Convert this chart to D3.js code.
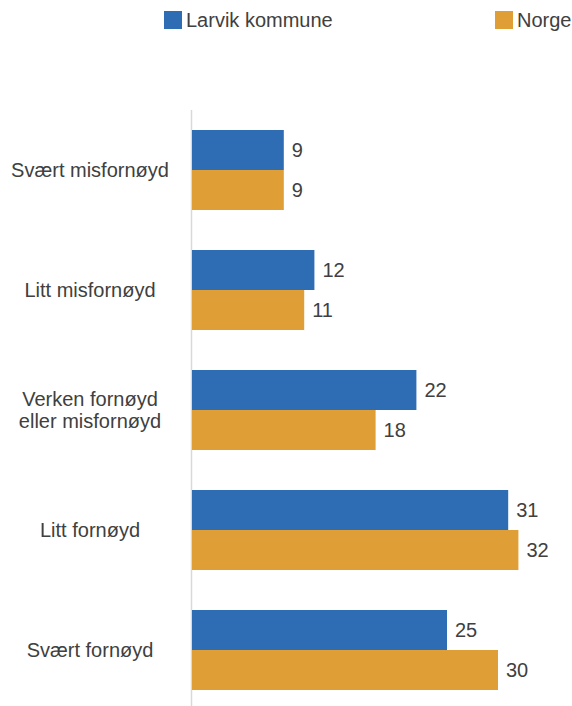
<!DOCTYPE html>
<html>
<head>
<meta charset="utf-8">
<script src="https://cdn.jsdelivr.net/npm/d3@7"></script>
<style>
  body { margin: 0; background: #fff; }
  text { font-family: "Liberation Sans", Arial, sans-serif; }
</style>
</head>
<body>
<div id="canvas"></div>
<script>
// DATA ========================================================================

var CATEGORIES = [
    ["Svært misfornøyd"],
    ["Litt misfornøyd"],
    ["Verken fornøyd", "eller misfornøyd"],
    ["Litt fornøyd"],
    ["Svært fornøyd"]
]

var SERIES = ["Larvik kommune", "Norge"]

var LARVIK = [9, 12, 22, 31, 25]

var NORGE = [9, 11, 18, 32, 30]

var COLORS = ["#2e6db4", "#e09e36"]

// SETTINGS ====================================================================

var WIDTH = 572
var HEIGHT = 706
var FONT_SIZE = 20
var TEXT_COLOR = "#404040"

function translate(x, y) {
    return "translate(" + x + "," + y + ")"
}

// SVG GENERATOR ===============================================================

var svg = d3.select("#canvas").append("svg")
    .attr("width", WIDTH)
    .attr("height", HEIGHT)

var x = d3.scaleLinear().domain([0, 35]).range([192, 549])

var y = d3.scaleBand()
    .domain(d3.range(CATEGORIES.length))
    .range([110, 710])
    .paddingInner(1/3)
    .paddingOuter(1/6)

var sub = d3.scaleBand()
    .domain(d3.range(SERIES.length))
    .range([0, y.bandwidth()])

var rows = CATEGORIES.map((c, i) => ({ "label": c, "values": [LARVIK[i], NORGE[i]], "i": i }))

// Axis line.
svg.append("line")
    .attr("x1", x(0) - 0.5).attr("x2", x(0) - 0.5)
    .attr("y1", 110).attr("y2", HEIGHT)
    .attr("stroke", "#d9d9d9")
    .attr("stroke-width", 1.5)

// Bars.
var groups = svg.selectAll("g.row")
    .data(rows).enter()
    .append("g")
        .attr("class", "row")
        .attr("transform", d => translate(0, y(d.i)))

groups.selectAll("rect")
    .data(d => d.values).enter()
    .append("rect")
        .attr("x", x(0))
        .attr("y", (d, j) => sub(j))
        .attr("width", d => x(d) - x(0))
        .attr("height", sub.bandwidth())
        .attr("fill", (d, j) => COLORS[j])

groups.selectAll("text.value")
    .data(d => d.values).enter()
    .append("text")
        .attr("class", "value")
        .attr("x", d => x(d) + 8)
        .attr("y", (d, j) => sub(j) + sub.bandwidth()/2)
        .attr("dy", "0.35em")
        .attr("font-size", FONT_SIZE)
        .attr("fill", TEXT_COLOR)
        .text(d => d)

// Category labels.
groups.append("text")
    .attr("class", "label")
    .attr("x", 90)
    .attr("y", y.bandwidth()/2)
    .attr("text-anchor", "middle")
    .attr("font-size", FONT_SIZE)
    .attr("fill", TEXT_COLOR)
    .each(function(d) {
        let t = d3.select(this)
        let n = d.label.length
        d.label.forEach((line, k) => {
            t.append("tspan")
                .attr("x", 90)
                .attr("dy", k == 0 ? (0.35 - (n - 1)*0.55) + "em" : "1.1em")
                .text(line)
        })
    })

// Legend.
var LEGEND_X = [164, 495]
var legend = svg.selectAll("g.legend")
    .data(SERIES).enter()
    .append("g")
        .attr("class", "legend")
        .attr("transform", (d, i) => translate(LEGEND_X[i], 11))

legend.append("rect")
    .attr("width", 18)
    .attr("height", 18)
    .attr("fill", (d, i) => COLORS[i])

legend.append("text")
    .attr("x", 22)
    .attr("y", 9)
    .attr("dy", "0.35em")
    .attr("font-size", FONT_SIZE)
    .attr("fill", TEXT_COLOR)
    .text(d => d)
</script>
</body>
</html>
